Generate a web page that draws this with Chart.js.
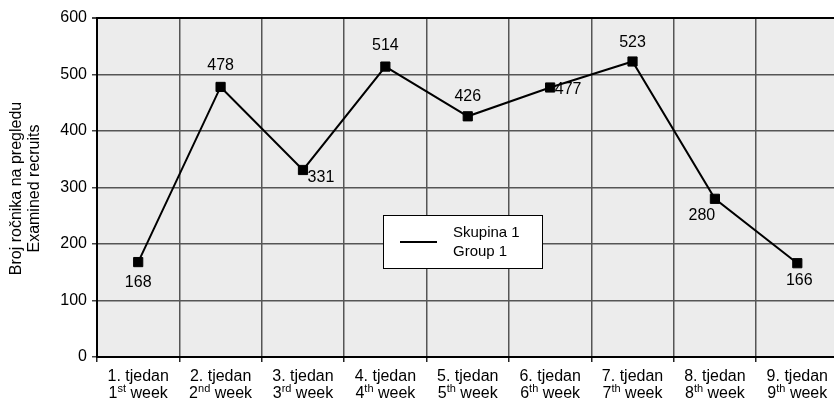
<!DOCTYPE html>
<html>
<head>
<meta charset="utf-8">
<script src="https://cdn.jsdelivr.net/npm/chart.js@4/dist/chart.umd.min.js"></script>
<style>
  html, body { margin: 0; padding: 0; background: #fff; overflow: hidden; width: 834px; height: 402px; }
  #wrap { width: 846px; height: 402px; }
</style>
</head>
<body>
<div id="wrap"><canvas id="c" width="846" height="402"></canvas></div>
<script>
// ---- data ----
const weekLabelsHr = ["1. tjedan", "2. tjedan", "3. tjedan", "4. tjedan", "5. tjedan", "6. tjedan", "7. tjedan", "8. tjedan", "9. tjedan"];
const weekNumbers = ["1", "2", "3", "4", "5", "6", "7", "8", "9"];
const weekSuffixes = ["st", "nd", "rd", "th", "th", "th", "th", "th", "th"];
const weekWord = " week";
const group1Values = [168, 478, 331, 514, 426, 477, 523, 280, 166];
const seriesNameHr = "Skupina 1";
const seriesNameEn = "Group 1";
const yTitleLines = ["Broj ročnika na pregledu", "Examined recruits"];
const yTicks = [0, 100, 200, 300, 400, 500, 600];

// ---- styles ----
const FONT = '"Liberation Sans", Arial, Helvetica, sans-serif';
const labelOffsets = [[0, 21], [0, -21], [18, 8], [0, -21], [0, -20], [18, 2], [0, -19], [-13, 17], [2, 17]];

const customDraw = {
  id: 'customDraw',
  afterDraw(chart) {
    const ctx = chart.ctx;
    const xs = chart.scales.x;
    const area = chart.chartArea;
    ctx.save();
    ctx.fillStyle = '#000';
    const mainFont = '16px ' + FONT;
    const supFont = '11px ' + FONT;
    weekLabelsHr.forEach((lab, i) => {
      const cx = xs.getPixelForValue(i);
      ctx.font = mainFont;
      ctx.textAlign = 'center';
      ctx.textBaseline = 'middle';
      ctx.fillText(lab, cx, area.bottom + 20);
      const wNum = ctx.measureText(weekNumbers[i]).width;
      const wWord = ctx.measureText(weekWord).width;
      ctx.font = supFont;
      const wSup = ctx.measureText(weekSuffixes[i]).width;
      const total = wNum + wSup + wWord;
      const x0 = cx - total / 2;
      const yLine = area.bottom + 37;
      ctx.textAlign = 'left';
      ctx.font = mainFont;
      ctx.fillText(weekNumbers[i], x0, yLine);
      ctx.font = supFont;
      ctx.fillText(weekSuffixes[i], x0 + wNum, yLine - 5);
      ctx.font = mainFont;
      ctx.fillText(weekWord, x0 + wNum + wSup, yLine);
    });
    // y title
    ctx.save();
    ctx.translate(17, (area.top + area.bottom) / 2 + 1);
    ctx.rotate(-Math.PI / 2);
    ctx.font = '16px ' + FONT;
    ctx.textAlign = 'center';
    ctx.textBaseline = 'middle';
    ctx.fillText(yTitleLines[0], 0, 0);
    ctx.fillText(yTitleLines[1], 0, 18);
    ctx.restore();
    ctx.restore();
  },
  afterDatasetsDraw(chart) {
    const ctx = chart.ctx;
    const area = chart.chartArea;
    const meta = chart.getDatasetMeta(0);
    ctx.save();
    ctx.font = '16px ' + FONT;
    ctx.fillStyle = '#000';
    ctx.textAlign = 'center';
    ctx.textBaseline = 'middle';
    meta.data.forEach((pt, i) => {
      const off = labelOffsets[i];
      ctx.fillText(String(group1Values[i]), pt.x + off[0], pt.y + off[1]);
    });
    // legend box
    const lx = area.left + 286, ly = area.top + 197, lw = 159, lh = 53;
    ctx.fillStyle = '#fff';
    ctx.fillRect(lx, ly, lw, lh);
    ctx.strokeStyle = '#000';
    ctx.lineWidth = 1;
    ctx.strokeRect(lx + 0.5, ly + 0.5, lw, lh);
    ctx.beginPath();
    ctx.lineWidth = 2;
    ctx.moveTo(lx + 17, ly + 27);
    ctx.lineTo(lx + 54, ly + 27);
    ctx.stroke();
    ctx.fillStyle = '#000';
    ctx.textAlign = 'left';
    ctx.font = '15px ' + FONT;
    ctx.fillText(seriesNameHr, lx + 70, ly + 18);
    ctx.fillText(seriesNameEn, lx + 70, ly + 37);
    ctx.restore();
  }
};

const plotBg = {
  id: 'plotBg',
  beforeDraw(chart) {
    const { ctx, chartArea: a } = chart;
    ctx.save();
    ctx.fillStyle = '#ececec';
    ctx.fillRect(a.left, a.top, a.right - a.left, a.bottom - a.top);
    ctx.restore();
  }
};

new Chart(document.getElementById('c'), {
  type: 'line',
  data: {
    labels: weekLabelsHr,
    datasets: [{
      label: seriesNameHr,
      data: group1Values,
      borderColor: '#000',
      backgroundColor: '#000',
      borderWidth: 2,
      tension: 0,
      pointStyle: 'rect',
      pointRadius: 6.5,
      pointBorderWidth: 1,
      pointBackgroundColor: '#000',
      pointBorderColor: '#000',
      fill: false
    }]
  },
  options: {
    responsive: false,
    animation: false,
    devicePixelRatio: 1,
    layout: { padding: { top: 18, right: 2, bottom: 0, left: 0 } },
    plugins: { legend: { display: false }, tooltip: { enabled: false } },
    scales: {
      x: {
        type: 'category',
        offset: true,
        grid: {
          offset: true,
          color: '#555',
          lineWidth: 1.5,
          tickLength: 5,
          tickColor: '#222',
          drawTicks: true
        },
        border: { display: true, color: '#000', width: 2 },
        ticks: { display: false },
        afterFit(scale) { scale.height = 45; }
      },
      y: {
        min: 0,
        max: 600,
        afterBuildTicks(scale) { scale.ticks = yTicks.map(v => ({ value: v })); },
        grid: {
          color: (c) => (c.tick && c.tick.value === 600) ? '#000' : '#555',
          lineWidth: (c) => (c.tick && c.tick.value === 600) ? 2 : 1.5,
          tickLength: 5,
          tickColor: '#444'
        },
        border: { display: true, color: '#000', width: 2 },
        ticks: {
          color: '#000',
          padding: 5,
          font: { family: FONT, size: 16 }
        },
        afterFit(scale) { scale.width = 97; }
      }
    }
  },
  plugins: [plotBg, customDraw]
});
</script>
</body>
</html>
